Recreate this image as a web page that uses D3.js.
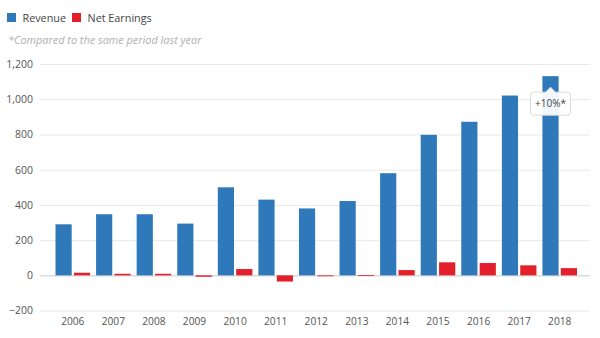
<!DOCTYPE html>
<html>
<head>
<meta charset="utf-8">
<script src="https://cdn.jsdelivr.net/npm/d3@7"></script>
<style>
  html, body { margin: 0; padding: 0; background: #fff; }
  svg { display: block; font-family: "Open Sans", "Noto Sans", sans-serif; }
</style>
</head>
<body>
<svg id="chart" width="600" height="338"></svg>
<script>
// Annual figures
const years = ["2006","2007","2008","2009","2010","2011","2012","2013","2014","2015","2016","2017","2018"];
const revenue = [290, 347, 347, 294, 500, 430, 380, 422, 580, 798, 872, 1021, 1131];
const netEarnings = [15, 9, 9, -8, 36, -35, -5, 2, 30, 74, 70, 57, 41];
const seriesNames = ["Revenue", "Net Earnings"];
const seriesColors = ["#2f79bb", "#e21f2a"];
const yTicks = [-200, 0, 200, 400, 600, 800, 1000, 1200];
const calloutText = "+10%*";
const noteText = "*Compared to the same period last year";

(function () {
const svg = d3.select("#chart");

const plot = { left: 40, right: 590 };
const y = d3.scaleLinear().domain([-200, 1200]).range([310.6, 64]);

const x0 = d3.scaleBand().domain(years).range([52.5, 580]).padding(0);
const x1 = d3.scaleBand().domain(seriesNames).range([3, x0.bandwidth() - 3]).paddingInner(0.12);

// Gridlines and value labels
const yAxis = d3.axisLeft(y).tickValues(yTicks).tickSize(-(plot.right - plot.left)).tickFormat(d3.format(","));
const gy = svg.append("g").attr("transform", `translate(${plot.left},0)`).call(yAxis);
gy.select(".domain").remove();
gy.selectAll(".tick line").attr("stroke", d => d === 0 ? "#c8c8c8" : "#e8e8e8").attr("stroke-width", 1);
gy.selectAll(".tick text").attr("x", -7).attr("fill", "#555").attr("font-size", 10.5).attr("font-family", "Open Sans, sans-serif");

// Year labels
const xAxis = d3.axisBottom(x0).tickSize(0).tickPadding(0);
const gx = svg.append("g").attr("transform", "translate(0,318)").call(xAxis);
gx.select(".domain").remove();
gx.selectAll(".tick text").attr("fill", "#555").attr("font-size", 10.2).attr("dy", "0.71em").attr("font-family", "Open Sans, sans-serif");

// Bars
const rows = years.map((yr, i) => ({ year: yr, values: [revenue[i], netEarnings[i]] }));
const groups = svg.append("g").selectAll("g").data(rows).join("g")
  .attr("transform", d => `translate(${x0(d.year)},0)`);
groups.selectAll("rect").data(d => d.values.map((v, k) => ({ key: seriesNames[k], v, k }))).join("rect")
  .attr("x", d => x1(d.key))
  .attr("width", x1.bandwidth())
  .attr("y", d => y(Math.max(0, d.v)))
  .attr("height", d => Math.max(0.8, Math.abs(y(d.v) - y(0))))
  .attr("fill", d => seriesColors[d.k]);

// Legend
const legend = svg.append("g").attr("transform", "translate(7,13)");
let lx = 0;
seriesNames.forEach((name, k) => {
  const item = legend.append("g").attr("transform", `translate(${lx},0)`);
  item.append("rect").attr("width", 9).attr("height", 9).attr("fill", seriesColors[k]);
  const t = item.append("text").attr("x", 15.5).attr("y", 8.5).attr("font-size", 10.8).attr("fill", "#444").text(name);
  lx += 15.5 + t.node().getComputedTextLength() + 6;
});

// Footnote
svg.append("text").attr("x", 8).attr("y", 44).attr("font-size", 10.9).attr("font-style", "italic")
  .attr("fill", "#b0b0b0").text(noteText);

// Callout on the latest revenue bar
const last = years.length - 1;
const cx = x0(years[last]) + x1(seriesNames[0]) + x1.bandwidth() / 2;
const boxTop = y(revenue[last]) + 16;
const bw = 40, bh = 23, r = 3, nh = 5, nw = 5;
const bx = cx - bw / 2;
const callout = svg.append("g");
const p = d3.path();
p.moveTo(bx + r, boxTop);
p.lineTo(cx - nw, boxTop); p.lineTo(cx, boxTop - nh); p.lineTo(cx + nw, boxTop);
p.lineTo(bx + bw - r, boxTop); p.quadraticCurveTo(bx + bw, boxTop, bx + bw, boxTop + r);
p.lineTo(bx + bw, boxTop + bh - r); p.quadraticCurveTo(bx + bw, boxTop + bh, bx + bw - r, boxTop + bh);
p.lineTo(bx + r, boxTop + bh); p.quadraticCurveTo(bx, boxTop + bh, bx, boxTop + bh - r);
p.lineTo(bx, boxTop + r); p.quadraticCurveTo(bx, boxTop, bx + r, boxTop);
p.closePath();
callout.append("path").attr("d", p.toString()).attr("fill", "rgba(255,255,255,0.94)")
  .attr("stroke", "#dcdcdc").attr("stroke-width", 1);
callout.append("text").attr("x", cx).attr("y", boxTop + bh / 2 + 3.5).attr("text-anchor", "middle")
  .attr("font-size", 10).attr("fill", "#444").text(calloutText);
})();
</script>
</body>
</html>
